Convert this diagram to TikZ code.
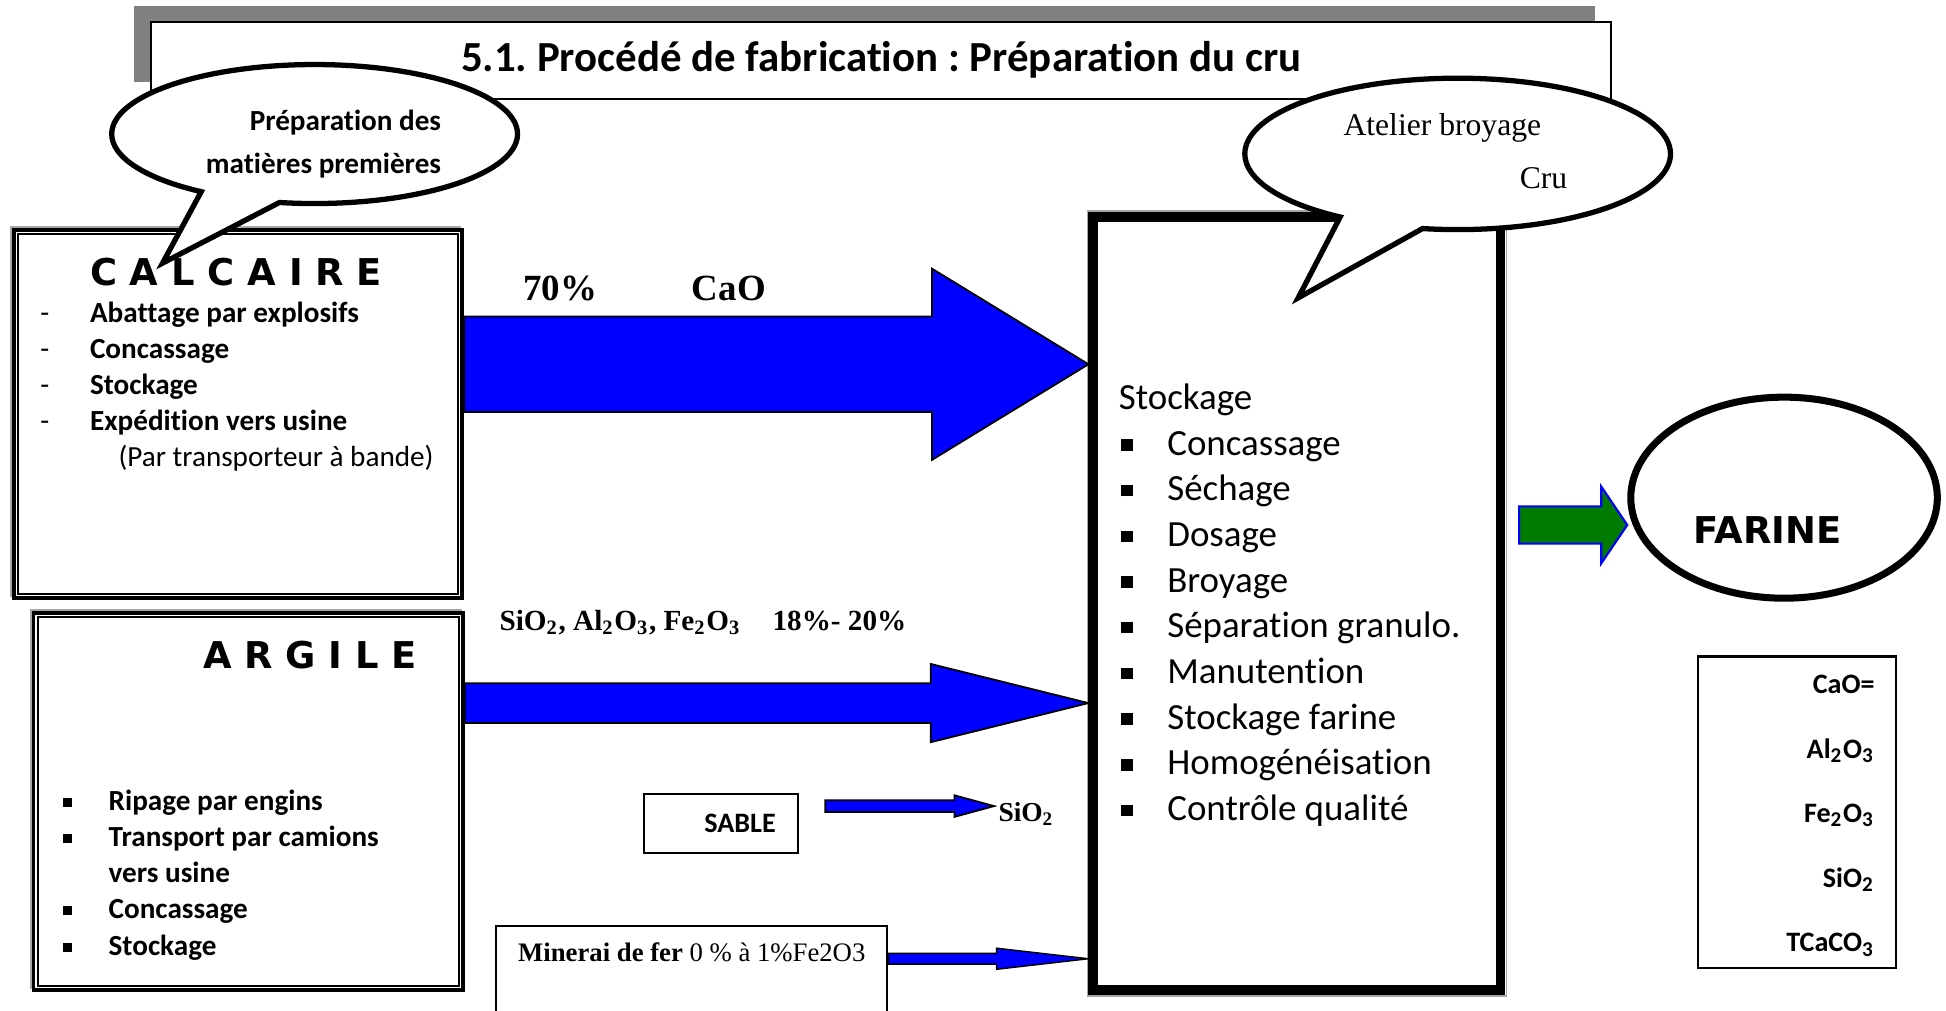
\documentclass[tikz,border=0pt]{standalone}
\usepackage{fontspec}
\setmainfont{Liberation Serif}
\newfontfamily\calibri{Carlito}[Ligatures=NoCommon]
\newfontfamily\lourde{DejaVu Sans}
\usetikzlibrary{calc,positioning,fit,shapes.geometric,shapes.callouts}
\frenchspacing

\definecolor{bleufleche}{RGB}{0,0,255}
\definecolor{vertfleche}{RGB}{0,122,0}

\newcommand{\ind}[1]{\textsubscript{#1}}
\newcommand{\puce}{\rule[0.12em]{0.31em}{0.31em}}
\newcommand{\taille}[2]{\fontsize{#1}{#2}\selectfont}
% fleche pleine : depart, pointe, demi-tige, demi-tete, longueur tete, style
\newcommand{\flechebloc}[6]{%
  \filldraw[#6] (#1) -- ++(0,#3) -- ($(#2)+(-#5,#3)$) -- ($(#2)+(-#5,#4)$)
    -- (#2) -- ($(#2)+(-#5,-#4)$) -- ($(#2)+(-#5,-#3)$) -- ($(#1)+(0,-#3)$) -- cycle;}

\begin{document}
\begin{tikzpicture}[x=0.1241mm, y=-0.1241mm,
    cadre/.style={draw, line width=1.1pt, fill=white, inner sep=0pt},
    cadrefin/.style={draw, line width=0.6pt},
    ombre/.style={draw=gray!70, line width=0.8pt},
    boite/.style={draw, line width=0.6pt, fill=white, inner sep=0pt},
    bulle/.style={ellipse callout, draw, line width=1.5pt, fill=white, inner sep=0pt, callout pointer arc=24},
    gros/.style={font=\lourde\bfseries\taille{10.5}{12}, inner sep=0pt, anchor=base west},
    ligne/.style={font=\calibri\bfseries\taille{8.3}{10}, inner sep=0pt, anchor=base west},
    etape/.style={font=\calibri\taille{10.5}{13}, inner sep=0pt, anchor=base west},
    chimie/.style={font=\bfseries\taille{8.3}{10}, inner sep=0pt, anchor=base west},
    fleche/.style={fill=bleufleche, draw=black, line width=0.5pt}
  ]
  \useasboundingbox (0,0) rectangle (1568,814);
  \clip (0,0) rectangle (1568,814);

  % --- Titre ---
  \fill[gray] (108,5) rectangle (1285,66);
  \node[boite, fit={(122,17.5) (1298,79.5)}] (titre) {};
  \node[font=\calibri\bfseries\taille{12.2}{14}] (titretxt) at (titre.center) {5.1. Procédé de fabrication : Préparation du cru};

  % --- Calcaire ---
  \draw[ombre] (9,183) rectangle (370.5,480);
  \node[cadre, fit={(11,185) (372.5,482)}] (calcaire) {};
  \draw[cadrefin] ($(calcaire.north west)+(5,5)$) rectangle ($(calcaire.south east)+(-5,-5)$);
  \node[gros] (calctitre) at (72,230) {C A L C A I R E};
  \foreach \txt/\yy [count=\i] in {Abattage par explosifs/260, Concassage/289, Stockage/318, Expédition vers usine/347}{
    \node[ligne, font=\calibri\taille{8.3}{10}] (tiret\i) at (32,\yy) {-};
    \node[ligne] (calc\i) at (72,\yy) {\txt};
  }
  \node[ligne, font=\calibri\taille{8.3}{10}] (bande) at (95,376) {(Par transporteur à bande)};

  % --- Argile ---
  \draw[ombre] (25,492) rectangle (371,796);
  \node[cadre, fit={(27,494) (373,798)}] (argile) {};
  \draw[cadrefin] ($(argile.north west)+(5,5)$) rectangle ($(argile.south east)+(-5,-5)$);
  \node[gros] (argtitre) at (163,539) {A R G I L E};
  \foreach \txt/\yy [count=\i] in {Ripage par engins/653, Transport par camions/682, Concassage/740, Stockage/770}
    \node[ligne] (arg\i) at (87,\yy) {\llap{\puce\hspace{10.4pt}}\txt};
  \node[ligne] (usine) at (87,711) {vers usine};

  % --- Atelier cru ---
  \draw[ombre, line width=0.5pt] (876.2,170.2) rectangle (1213.8,802.8);
  \node[draw, line width=2.8pt, fill=white, inner sep=0pt, fit={(881,175) (1209,798)}] (cru) {};
  \node[etape] (stock) at (901,330) {Stockage};
  \foreach \txt [count=\i] in {Concassage, Séchage, Dosage, Broyage, Séparation granulo., Manutention, Stockage farine, Homogénéisation, Contrôle qualité}
    \node[etape] (etape\i) at (940,{330+36.8*\i}) {\llap{\puce\hspace{9.8pt}}\txt};

  % --- Fleches vers l'atelier ---
  \flechebloc{calcaire.east |- 0,293.5}{cru.west |- 0,293.5}{38.5}{77}{126}{fleche}
  \node[chimie, font=\bfseries\taille{10.5}{12}] (pct) at (421,242) {70\%};
  \node[chimie, font=\bfseries\taille{10.5}{12}] (cao) at (557,242) {CaO};
  \flechebloc{argile.east |- 0,566.5}{cru.west |- 0,566.5}{16}{31.5}{127}{fleche}
  \node[chimie] (oxydes) at (402,508) {SiO\ind{2}, Al\ind{2}O\ind{3}, Fe\ind{2}O\ind{3}\hspace{9pt}18\%- 20\%};

  % --- Sable ---
  \node[boite, fit={(519,640) (643,687)}] (sable) {};
  \node[ligne, font=\calibri\bfseries\taille{8}{10}] (sabletxt) at (567,671) {SABLE};
  \node[chimie, font=\bfseries\taille{7.8}{9}] (sio) at (804,662) {SiO\ind{2}};
  \coordinate (sabledep) at ($(sable.east)+(21,-14)$);
  \coordinate (siopt) at (801,649.5);
  \flechebloc{sabledep}{siopt}{4.8}{8.7}{32}{fleche}

  % --- Minerai ---
  \node[boite, fit={(400,746) (715,840)}] (minerai) {};
  \node[ligne, font=\taille{7.6}{9}] (minetxt) at (417,775) {\textbf{Minerai de fer} 0 \% à 1\%Fe2O3};
  \flechebloc{minerai.east |- 0,772.5}{cru.west |- 0,772.5}{4.3}{8.5}{74}{fill=bleufleche}

  % --- Bulles ---
  \node[bulle, minimum width={327*0.1241mm}, minimum height={112*0.1241mm}, callout absolute pointer={(131,212)}] (bulle1) at (253.5,108) {};
  \node[ligne, anchor=base east] (b1a) at (356,105) {Préparation des};
  \node[ligne, anchor=base east] (b1b) at (356,140) {matières premières};
  \node[bulle, minimum width={343*0.1241mm}, minimum height={122*0.1241mm}, callout absolute pointer={(1046,240)}] (bulle2) at (1174.5,124) {};
  \node[font=\taille{9}{11}, inner sep=0pt, anchor=base west] (b2a) at (1082,109) {Atelier broyage};
  \node[font=\taille{9}{11}, inner sep=0pt, anchor=base west] (b2b) at (1224,152) {Cru};

  % --- Farine ---
  \node[draw, ellipse, line width=2pt, fill=white, inner sep=0pt, minimum width={247*0.1241mm}, minimum height={162*0.1241mm}] (farine) at (1437.5,401) {};
  \node[gros] (farinetxt) at (1364,438) {FARINE};
  \coordinate (vertdep) at (1224,423);
  \flechebloc{vertdep}{farine.west |- 0,423}{15}{31}{21}{fill=vertfleche, draw=bleufleche, line width=0.6pt}

  % --- Composition de la farine ---
  \node[boite, fit={(1368,529) (1528,780)}] (compo) {};
  \foreach \txt/\yy [count=\i] in {{CaO=}/559, {Al\ind{2}O\ind{3}}/611, {Fe\ind{2}O\ind{3}}/663, {SiO\ind{2}}/715, {TCaCO\ind{3}}/767}
    \node[ligne, anchor=base east, font=\calibri\bfseries\taille{8}{10}] (compo\i) at (1511,\yy) {\txt};
\end{tikzpicture}
\end{document}
